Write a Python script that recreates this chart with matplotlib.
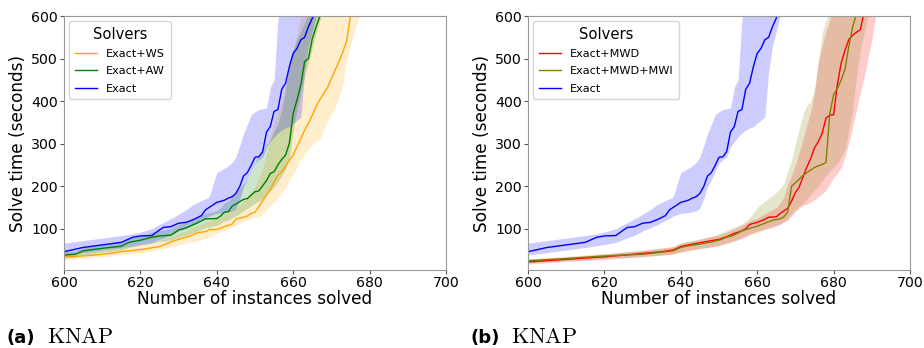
import numpy as np
import matplotlib
matplotlib.use("Agg")
import matplotlib.pyplot as plt

plt.rcParams['mathtext.fontset'] = 'cm'

# Exact (same in both panels)
x_exact = [600, 605, 610, 615, 618, 620, 623, 625, 626, 628, 630, 632, 634, 636, 637, 638, 640, 642, 643, 644,
           645, 646, 647, 648, 649, 650, 651, 652, 653, 654, 655, 656, 657, 658, 659, 660, 661, 662, 663, 664,
           665, 666]
m_exact = [46, 56, 62, 68, 80, 83, 84, 97, 103, 105, 113, 115, 122, 131, 144, 150, 162, 167, 172, 175,
           183, 199, 224, 232, 249, 268, 269, 281, 327, 340, 376, 380, 428, 442, 481, 512, 524, 544, 550, 575,
           595, 620]
lo_exact = [38, 44, 50, 56, 60, 63, 68, 75, 78, 85, 95, 102, 110, 120, 124, 130, 136, 138, 140, 142,
            148, 170, 199, 215, 235, 254, 262, 269, 293, 305, 316, 325, 332, 337, 340, 348, 355, 363, 470, 530,
            565, 600]
hi_exact = [66, 72, 78, 84, 88, 92, 100, 110, 114, 124, 134, 145, 158, 166, 170, 175, 232, 242, 248, 256,
            268, 295, 324, 345, 368, 375, 380, 382, 384, 432, 450, 590, 650, 650, 650, 650, 650, 650, 650, 650,
            650, 650]

# Exact+WS
x_ws = [600, 605, 610, 615, 620, 625, 628, 630, 633, 635, 637, 638, 640, 642, 644, 645, 647, 648, 649, 650,
        651, 652, 653, 654, 655, 656, 657, 658, 659, 660, 661, 662, 663, 664, 665, 666, 667, 668, 669, 670,
        671, 672, 673, 674, 675, 676, 677, 678]
m_ws = [34, 36, 40, 46, 51, 58, 69, 75, 83, 91, 93, 98, 98, 105, 111, 123, 127, 130, 136, 139,
        152, 166, 179, 192, 210, 226, 234, 247, 261, 273, 293, 312, 332, 348, 367, 387, 404, 418, 432, 453,
        473, 493, 516, 542, 600, 640, 660, 680]
lo_ws = [26, 30, 34, 39, 43, 51, 57, 62, 68, 72, 77, 80, 89, 96, 104, 108, 118, 121, 124, 126,
         128, 136, 144, 155, 164, 172, 185, 198, 214, 230, 245, 262, 275, 288, 298, 305, 310, 335, 355, 368,
         385, 410, 440, 495, 530, 567, 590, 620]
hi_ws = [42, 45, 50, 57, 62, 72, 82, 88, 100, 108, 115, 118, 125, 135, 145, 150, 165, 175, 188, 200,
         220, 240, 275, 320, 350, 375, 400, 440, 480, 520, 560, 600, 650, 650, 650, 650, 650, 650, 650, 650,
         650, 650, 650, 650, 650, 650, 650, 650]

# Exact+AW
x_aw = [600, 603, 605, 610, 615, 617, 620, 623, 625, 628, 630, 632, 635, 637, 640, 641, 642, 643, 644, 645,
        647, 648, 650, 651, 652, 653, 654, 655, 656, 657, 658, 659, 660, 661, 662, 663, 664, 665, 666, 667,
        668]
m_aw = [38, 40, 48, 54, 59, 68, 73, 80, 83, 85, 97, 102, 114, 123, 124, 130, 139, 140, 153, 158,
        169, 171, 187, 189, 201, 213, 230, 234, 250, 263, 273, 301, 371, 403, 438, 493, 500, 547, 575, 600,
        630]
lo_aw = [31, 33, 38, 45, 50, 56, 61, 66, 70, 73, 80, 85, 95, 102, 108, 112, 118, 120, 126, 130,
         142, 148, 160, 165, 172, 180, 190, 198, 210, 225, 240, 265, 330, 380, 420, 460, 490, 525, 560, 590,
         620]
hi_aw = [46, 48, 56, 63, 70, 78, 84, 92, 96, 100, 110, 116, 128, 136, 142, 150, 160, 165, 175, 185,
         205, 215, 255, 270, 285, 298, 310, 330, 345, 380, 425, 495, 520, 545, 565, 585, 605, 650, 650, 650,
         650]

# Exact+MWD
x_mwd = [600, 610, 620, 625, 630, 635, 638, 640, 642, 645, 648, 650, 652, 654, 656, 657, 658, 660, 662, 663,
         665, 666, 667, 668, 669, 670, 671, 672, 673, 674, 675, 676, 677, 678, 679, 680, 681, 682, 683, 684,
         685, 686, 687, 688, 689, 690, 691]
m_mwd = [22, 28, 34, 38, 42, 46, 50, 58, 62, 67, 72, 75, 81, 89, 95, 100, 110, 115, 122, 127,
         128, 136, 142, 148, 165, 185, 198, 222, 245, 265, 290, 305, 324, 360, 367, 368, 440, 490, 520, 545,
         555, 562, 568, 610, 640, 660, 680]
lo_mwd = [17, 23, 28, 31, 35, 38, 41, 45, 48, 53, 57, 60, 65, 71, 77, 81, 85, 92, 98, 101,
          106, 110, 115, 120, 130, 140, 148, 155, 158, 162, 168, 175, 182, 191, 205, 220, 230, 245, 270, 301,
          340, 379, 420, 457, 500, 545, 600]
hi_mwd = [27, 33, 40, 45, 50, 55, 58, 66, 70, 76, 82, 86, 92, 100, 108, 112, 118, 125, 135, 140,
          150, 160, 175, 205, 225, 250, 280, 310, 345, 375, 420, 490, 530, 565, 590, 620, 650, 650, 650, 650,
          650, 650, 650, 650, 650, 650, 650]

# Exact+MWD+MWI
x_mwi = [600, 610, 620, 630, 635, 638, 640, 642, 645, 648, 650, 652, 654, 656, 658, 660, 662, 664, 666, 667,
         668, 669, 670, 672, 673, 674, 675, 676, 677, 678, 679, 680, 681, 682, 683, 684, 685, 686, 687, 688,
         689]
m_mwi = [25, 30, 36, 40, 45, 48, 56, 60, 64, 69, 73, 80, 85, 95, 101, 106, 113, 120, 123, 128,
         140, 200, 208, 225, 232, 238, 244, 248, 251, 256, 370, 415, 430, 450, 475, 530, 575, 605, 630, 650,
         670]
lo_mwi = [20, 25, 30, 34, 38, 40, 46, 50, 54, 58, 62, 67, 72, 80, 88, 95, 100, 106, 112, 118,
          125, 135, 145, 160, 170, 180, 190, 200, 212, 225, 235, 245, 254, 270, 285, 330, 379, 457, 520, 560,
          600]
hi_mwi = [29, 35, 42, 48, 54, 58, 66, 70, 75, 82, 88, 96, 104, 112, 125, 150, 165, 178, 195, 207,
          235, 260, 300, 370, 390, 398, 430, 495, 560, 590, 610, 650, 650, 650, 650, 650, 650, 650, 650, 650,
          650]

panels = [
    [("Exact+WS", x_ws, m_ws, lo_ws, hi_ws, "orange"),
     ("Exact+AW", x_aw, m_aw, lo_aw, hi_aw, "green"),
     ("Exact", x_exact, m_exact, lo_exact, hi_exact, "blue")],
    [("Exact+MWD", x_mwd, m_mwd, lo_mwd, hi_mwd, "red"),
     ("Exact+MWD+MWI", x_mwi, m_mwi, lo_mwi, hi_mwi, "olive"),
     ("Exact", x_exact, m_exact, lo_exact, hi_exact, "blue")],
]
captions = ["(a)", "(b)"]

fig = plt.figure(figsize=(9.24, 3.48), dpi=100)
lefts = [64 / 924, 528 / 924]
for k, series in enumerate(panels):
    ax = fig.add_axes([lefts[k], 78 / 348, 382 / 924, 254 / 348])
    for name, x, m, lo, hi, c in series:
        ax.fill_between(x, lo, hi, color=c, alpha=0.2, linewidth=0)
        ax.plot(x, m, color=c, linewidth=1, label=name)
    ax.set_xlim(600, 700)
    ax.set_ylim(3, 600)
    ax.set_xticks([600, 620, 640, 660, 680, 700])
    ax.set_yticks([100, 200, 300, 400, 500, 600])
    ax.tick_params(labelsize=10.2, length=3, pad=1.5, color="#555555")
    for sp in ax.spines.values():
        sp.set_color("#999999")
    ax.set_xlabel("Number of instances solved", fontsize=12.2, labelpad=0)
    ax.set_ylabel("Solve time (seconds)", fontsize=12.2, labelpad=3)
    ax.legend(title="Solvers", loc="upper left", fontsize=8.1, title_fontsize=10.6,
              labelspacing=0.65, borderaxespad=0.45, borderpad=0.5)
    fig.text(lefts[k] - 57 / 924, 0.014, captions[k], fontsize=13, weight="bold")
    fig.text(lefts[k] - 17 / 924, 0.014, r"$\mathrm{KNAP}$", fontsize=16)

fig.savefig("out.png", dpi=100)
